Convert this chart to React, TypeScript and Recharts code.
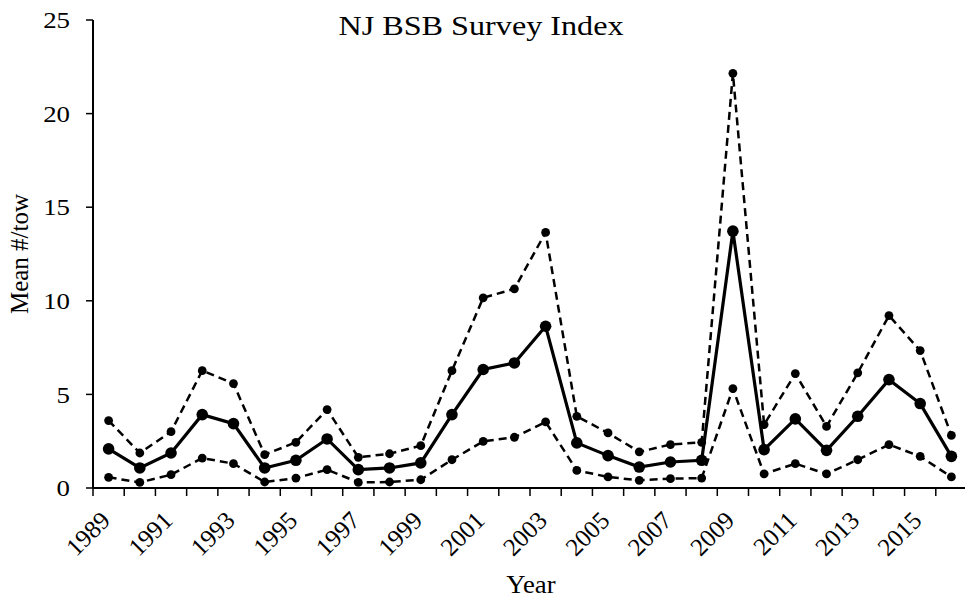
import { LineChart, Line, XAxis, YAxis } from "recharts"

const years = [
  "1989", "1990", "1991", "1992", "1993", "1994", "1995", "1996", "1997", "1998",
  "1999", "2000", "2001", "2002", "2003", "2004", "2005", "2006", "2007", "2008",
  "2009", "2010", "2011", "2012", "2013", "2014", "2015", "2016",
]

const meanTow = [
  2.09, 1.07, 1.87, 3.92, 3.44, 1.07, 1.48, 2.62, 0.98, 1.07,
  1.34, 3.92, 6.33, 6.68, 8.64, 2.41, 1.73, 1.12, 1.39, 1.48,
  13.72, 2.05, 3.69, 2.01, 3.83, 5.79, 4.51, 1.69,
]

const upperCI = [
  3.6, 1.87, 3.01, 6.27, 5.58, 1.78, 2.44, 4.19, 1.64, 1.83,
  2.26, 6.27, 10.16, 10.64, 13.65, 3.83, 2.94, 1.93, 2.32, 2.44,
  22.15, 3.39, 6.11, 3.29, 6.15, 9.21, 7.34, 2.81,
]

const lowerCI = [
  0.57, 0.3, 0.71, 1.6, 1.3, 0.32, 0.53, 0.98, 0.3, 0.32,
  0.44, 1.51, 2.49, 2.71, 3.53, 0.94, 0.59, 0.41, 0.5, 0.53,
  5.31, 0.75, 1.3, 0.75, 1.51, 2.32, 1.69, 0.59,
]

const yTicks = [0, 5, 10, 15, 20, 25]

const data = years.map((year, i) => ({
  year,
  mean: meanTow[i],
  upper: upperCI[i],
  lower: lowerCI[i],
}))

const FONT = "'Liberation Serif', 'Times New Roman', serif"
const PLOT_LEFT = 93
const PLOT_RIGHT = 967
const PLOT_TOP = 20
const PLOT_BOTTOM = 488
const BAND = (PLOT_RIGHT - PLOT_LEFT) / years.length
// the source picture is a little wider than tall, so the text is stretched too
const STRETCH = 1.12

// year labels every other year, tick marks sit between categories
function YearTick(props: any) {
  const { x, index, payload } = props
  const half = BAND / 2
  const ty = PLOT_BOTTOM + 34
  const tx = x + 3
  return (
    <g>
      <line x1={x - half} x2={x - half} y1={PLOT_BOTTOM} y2={PLOT_BOTTOM + 8} stroke="#000" strokeWidth={1.5} />
      {index === years.length - 1 && (
        <line x1={x + half} x2={x + half} y1={PLOT_BOTTOM} y2={PLOT_BOTTOM + 8} stroke="#000" strokeWidth={1.5} />
      )}
      {index % 2 === 0 && (
        <text
          x={tx}
          y={ty}
          transform={`rotate(-45 ${tx} ${ty})`}
          textAnchor="end"
          fontSize={25}
          fontFamily={FONT}
          fill="#000"
        >
          {payload.value}
        </text>
      )}
    </g>
  )
}

function ValueTick(props: any) {
  const { x, y, payload } = props
  return (
    <g transform={`translate(${x} ${y}) scale(${STRETCH} 1)`}>
      <text x={0} y={0} dy="0.34em" textAnchor="end" fontSize={24} fontFamily={FONT} fill="#000">
        {payload.value}
      </text>
    </g>
  )
}

export default function App() {
  return (
    <div
      style={{
        position: "absolute",
        left: 0,
        top: 0,
        width: 965,
        height: 599,
        overflow: "hidden",
        background: "#fff",
      }}
    >
      <LineChart
        width={PLOT_RIGHT + 1}
        height={599}
        data={data}
        margin={{ top: PLOT_TOP, right: 1, left: 0, bottom: 0 }}
      >
        <XAxis
          dataKey="year"
          scale="band"
          interval={0}
          height={599 - PLOT_BOTTOM}
          axisLine={{ stroke: "#000", strokeWidth: 2 }}
          tickLine={false}
          tick={<YearTick />}
        />
        <YAxis
          width={PLOT_LEFT}
          domain={[0, 25]}
          ticks={yTicks}
          tickSize={7}
          tickMargin={16}
          axisLine={{ stroke: "#000", strokeWidth: 2 }}
          tickLine={{ stroke: "#000", strokeWidth: 1.5 }}
          tick={<ValueTick />}
        />
        <Line
          dataKey="upper"
          stroke="#000"
          strokeWidth={2.5}
          strokeDasharray="8 5"
          dot={{ r: 4.4, fill: "#000", stroke: "#000", strokeWidth: 0, strokeDasharray: "" }}
          isAnimationActive={false}
        />
        <Line
          dataKey="lower"
          stroke="#000"
          strokeWidth={2.5}
          strokeDasharray="8 5"
          dot={{ r: 4.4, fill: "#000", stroke: "#000", strokeWidth: 0, strokeDasharray: "" }}
          isAnimationActive={false}
        />
        <Line
          dataKey="mean"
          stroke="#000"
          strokeWidth={3.2}
          dot={{ r: 5.8, fill: "#000", stroke: "#000", strokeWidth: 0 }}
          isAnimationActive={false}
        />
      </LineChart>
      <svg
        width={965}
        height={599}
        style={{ position: "absolute", left: 0, top: 0, pointerEvents: "none" }}
      >
        <g transform="translate(481 35) scale(1.15 1)">
          <text x={0} y={0} textAnchor="middle" fontSize={28} fontFamily={FONT} fill="#000">
            NJ BSB Survey Index
          </text>
        </g>
        <text
          x={28}
          y={254}
          transform="rotate(-90 28 254)"
          textAnchor="middle"
          fontSize={25}
          fontFamily={FONT}
          fill="#000"
        >
          Mean #/tow
        </text>
        <g transform="translate(531 593) scale(1.07 1)">
          <text x={0} y={0} textAnchor="middle" fontSize={25} fontFamily={FONT} fill="#000">
            Year
          </text>
        </g>
      </svg>
    </div>
  )
}
